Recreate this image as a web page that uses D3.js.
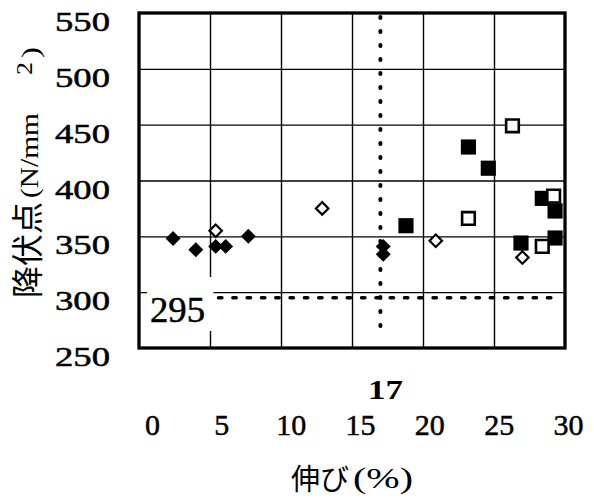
<!DOCTYPE html>
<html>
<head>
<meta charset="utf-8">
<script src="https://cdn.jsdelivr.net/npm/d3@7"></script>
<style>
  html, body { margin: 0; padding: 0; background: #fff; }
  svg { display: block; }
  .serif { font-family: "Liberation Serif", "DejaVu Serif", serif; }
  .cjk { font-family: "Noto Sans CJK JP", "Noto Sans CJK SC", sans-serif; }
  .num { stroke: #000; stroke-width: 0.5px; }
</style>
</head>
<body>
<svg id="chart" width="594" height="502"></svg>
<script>
// Elongation (%) vs. yield point (N/mm²), four specimen groups
const filledDiamondX = [2.4, 4.0, 5.4, 6.1, 7.7, 17.2, 17.2];
const filledDiamondY = [348, 338, 341, 341, 350, 341, 334];

const openDiamondX = [5.4, 12.9, 20.9, 27.0];
const openDiamondY = [355, 375, 346, 331];

const filledSquareX = [18.8, 23.2, 24.6, 26.9, 28.4, 29.3, 29.3];
const filledSquareY = [359.5, 430, 411, 344, 384, 372.7, 348.5];

const openSquareX = [26.3, 23.2, 29.2, 28.4];
const openSquareY = [449, 366, 386, 341];

const xTicks = [0, 5, 10, 15, 20, 25, 30];
const yTicks = [250, 300, 350, 400, 450, 500, 550];

// Reference lines: minimum elongation and minimum yield point
const elongationLimit = 17;
const yieldLimit = 295;
const elongationLineBottom = 268;
const yieldLineEnd = 29.2;

const svg = d3.select("#chart");

const x = d3.scaleLinear().domain([0, 30]).range([139, 565]);
const y = d3.scaleLinear().domain([250, 550]).range([348, 13]);
// tick numbers below the frame sit on a slightly narrower band
const xLabel = d3.scaleLinear().domain([0, 30]).range([152.5, 568.5]);

const plotW = x.range()[1] - x.range()[0];
const plotH = y.range()[0] - y.range()[1];

// grid
svg.append("g")
  .attr("transform", `translate(0,${y.range()[0]})`)
  .call(d3.axisBottom(x).tickValues(xTicks.slice(1, -1)).tickSize(-plotH).tickFormat(""))
  .call(g => g.select(".domain").remove())
  .call(g => g.selectAll("line").attr("stroke", "#000").attr("stroke-width", 1.4));

svg.append("g")
  .attr("transform", `translate(${x.range()[0]},0)`)
  .call(d3.axisLeft(y).tickValues(yTicks.slice(1, -1)).tickSize(-plotW).tickFormat(""))
  .call(g => g.select(".domain").remove())
  .call(g => g.selectAll("line").attr("stroke", "#000").attr("stroke-width", 1.4));

// 295 label with a white backing box that breaks the grid behind it
const lim = svg.append("g");
const limText = lim.append("text")
  .attr("class", "serif num")
  .attr("x", 150)
  .attr("y", 322)
  .style("font-size", "35px")
  .attr("textLength", 55)
  .attr("lengthAdjust", "spacingAndGlyphs")
  .attr("fill", "#000")
  .text(String(yieldLimit));
const bb = limText.node().getBBox();
const boxRight = x(5) + 3.5;
lim.insert("rect", "text")
  .attr("x", bb.x - 3)
  .attr("y", bb.y - 14)
  .attr("width", boxRight - (bb.x - 3))
  .attr("height", bb.height + 15)
  .attr("fill", "#fff");

// horizontal dashed line at the yield limit
svg.append("line")
  .attr("x1", boxRight + 5)
  .attr("x2", x(yieldLineEnd))
  .attr("y1", y(yieldLimit))
  .attr("y2", y(yieldLimit))
  .attr("stroke", "#000")
  .attr("stroke-width", 3.4)
  .attr("stroke-linecap", "round")
  .attr("stroke-dasharray", "3.5 10.8");

// vertical dotted line at the elongation limit
svg.append("line")
  .attr("x1", x(elongationLimit))
  .attr("x2", x(elongationLimit))
  .attr("y1", y(550) + 4)
  .attr("y2", y(elongationLineBottom))
  .attr("stroke", "#000")
  .attr("stroke-width", 4)
  .attr("stroke-linecap", "round")
  .attr("stroke-dasharray", "1 13");

// markers
const diamond = d3.symbol().type(d3.symbolSquare).size(112)();
const diamondOpen = d3.symbol().type(d3.symbolSquare).size(78)();
const square = d3.symbol().type(d3.symbolSquare).size(230)();
const squareOpen = d3.symbol().type(d3.symbolSquare).size(160)();

function plot(xs, ys, path, fill, stroke, sw, rot) {
  svg.append("g").selectAll("path")
    .data(xs.map((v, i) => [v, ys[i]]))
    .join("path")
    .attr("d", path)
    .attr("transform", d => `translate(${x(d[0])},${y(d[1])}) rotate(${rot})`)
    .attr("fill", fill)
    .attr("stroke", stroke)
    .attr("stroke-width", sw);
}

plot(filledDiamondX, filledDiamondY, diamond, "#000", "none", 0, 45);
plot(openDiamondX, openDiamondY, diamondOpen, "#fff", "#000", 2.2, 45);
plot(filledSquareX, filledSquareY, square, "#000", "none", 0, 0);
plot(openSquareX, openSquareY, squareOpen, "#fff", "#000", 2.6, 0);

// frame
svg.append("rect")
  .attr("x", x.range()[0])
  .attr("y", y.range()[1])
  .attr("width", plotW)
  .attr("height", plotH)
  .attr("fill", "none")
  .attr("stroke", "#000")
  .attr("stroke-width", 3.3);

// y tick labels
svg.append("g").selectAll("text")
  .data(yTicks)
  .join("text")
  .attr("class", "serif num")
  .attr("x", 110)
  .attr("y", d => y(d) + 18)
  .attr("text-anchor", "end")
  .style("font-size", "27px")
  .attr("textLength", 55)
  .attr("lengthAdjust", "spacingAndGlyphs")
  .attr("fill", "#000")
  .text(d => d);

// x tick labels
svg.append("g").selectAll("text")
  .data(xTicks)
  .join("text")
  .attr("class", "serif num")
  .attr("x", d => xLabel(d))
  .attr("y", 435)
  .attr("text-anchor", "middle")
  .style("font-size", "30px")
  .attr("fill", "#000")
  .text(d => d);

// elongation limit value above the tick row
svg.append("text")
  .attr("class", "serif")
  .attr("x", 368)
  .attr("y", 399)
  .style("font-size", "28px")
  .style("font-weight", "bold")
  .attr("textLength", 35)
  .attr("lengthAdjust", "spacingAndGlyphs")
  .attr("fill", "#000")
  .text(String(elongationLimit));

// x title: "伸び" followed by "(%)"
const xTitle = svg.append("g");
xTitle.append("text")
  .attr("class", "cjk")
  .attr("x", 291).attr("y", 490)
  .style("font-size", "29px")
  .attr("fill", "#000")
  .text("伸び");
xTitle.append("text")
  .attr("class", "serif")
  .attr("x", 353).attr("y", 488)
  .style("font-size", "30px")
  .attr("textLength", 60)
  .attr("lengthAdjust", "spacingAndGlyphs")
  .attr("fill", "#000")
  .text("(%)");

// y title pieces, rotated to read bottom-to-top: [text, class, size, start, baseline, length]
const yTitleParts = [
  ["降伏点", "cjk", 32, 298, 39, null],
  ["(N/mm", "serif", 26, 198, 38, 85],
  ["2", "serif", 24, 75, 32, 13],
  [")", "serif", 26, 58, 39, 11]
];
svg.append("g").selectAll("text")
  .data(yTitleParts)
  .join("text")
  .attr("class", d => d[1])
  .attr("transform", "rotate(-90)")
  .attr("x", d => -d[3])
  .attr("y", d => d[4])
  .style("font-size", d => d[2] + "px")
  .attr("textLength", d => d[5])
  .attr("lengthAdjust", d => d[5] ? "spacingAndGlyphs" : null)
  .attr("fill", "#000")
  .text(d => d[0]);
</script>
</body>
</html>
